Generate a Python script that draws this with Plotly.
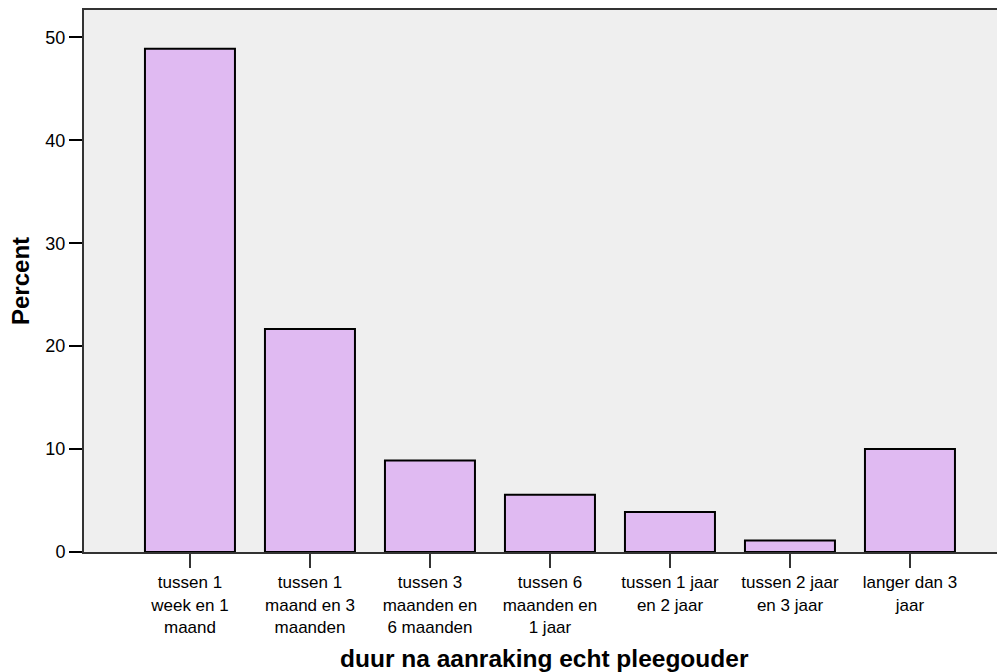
import plotly.graph_objects as go

categories = [
    "tussen 1<br>week en 1<br>maand",
    "tussen 1<br>maand en 3<br>maanden",
    "tussen 3<br>maanden en<br>6 maanden",
    "tussen 6<br>maanden en<br>1 jaar",
    "tussen 1 jaar<br>en 2 jaar",
    "tussen 2 jaar<br>en 3 jaar",
    "langer dan 3<br>jaar",
]
percent = [48.89, 21.67, 8.89, 5.56, 3.89, 1.11, 10.0]
y_ticks = [0, 10, 20, 30, 40, 50]

x_title = "duur na aanraking echt pleegouder"
y_title = "Percent"

FONT = "Liberation Sans, Arial, sans-serif"

fig = go.Figure(
    go.Bar(
        x=categories,
        y=percent,
        marker=dict(color="#E0BAF2", line=dict(color="#000000", width=2)),
    )
)

fig.update_layout(
    width=1005,
    height=672,
    margin=dict(l=76, r=0, t=0, b=128),
    paper_bgcolor="#FFFFFF",
    plot_bgcolor="#EFEFEF",
    bargap=0.25,
    showlegend=False,
    font=dict(family=FONT, color="#000000"),
    annotations=[
        dict(
            text="<b>" + x_title + "</b>",
            xref="paper", yref="paper",
            x=(544.5 - 8 - 76) / 929, y=-0.196,
            xanchor="center", yanchor="middle",
            showarrow=False,
            font=dict(family=FONT, size=24.5, color="#000000"),
        ),
        dict(
            text="<b>" + y_title + "</b>",
            xref="paper", yref="paper",
            x=(12 - 76) / 929, y=0.5,
            xanchor="center", yanchor="middle",
            textangle=-90,
            showarrow=False,
            font=dict(family=FONT, size=24, color="#000000"),
        ),
    ],
)

fig.update_xaxes(
    type="category",
    range=[-0.883, -0.883 + 929 / 120],
    showline=True,
    linecolor="#333333",
    linewidth=2,
    mirror=True,
    ticks="outside",
    ticklen=14,
    tickwidth=2,
    tickcolor="#333333",
    tickfont=dict(family=FONT, size=17, color="#000000"),
    showgrid=False,
    zeroline=False,
)

fig.update_yaxes(
    range=[0, 52.66],
    tickvals=y_ticks,
    showline=True,
    linecolor="#333333",
    linewidth=2,
    ticks="outside",
    ticklen=13,
    tickwidth=2,
    tickcolor="#000000",
    tickfont=dict(family=FONT, size=18, color="#000000"),
    showgrid=False,
    zeroline=False,
)

fig.write_html("out.html")
